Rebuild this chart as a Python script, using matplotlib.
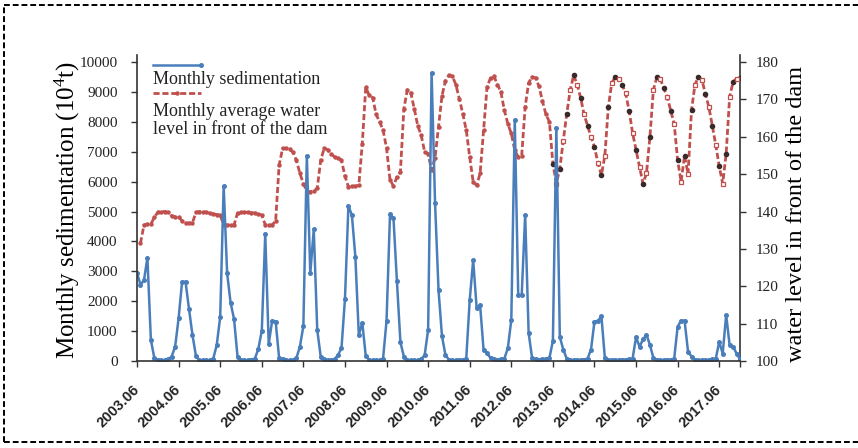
import numpy as np
import matplotlib.pyplot as plt
from matplotlib.lines import Line2D

plt.rcParams['font.family'] = ['Liberation Serif', 'DejaVu Serif']
plt.rcParams['mathtext.fontset'] = 'custom'
plt.rcParams['mathtext.rm'] = 'Liberation Serif'
plt.rcParams['mathtext.it'] = 'Liberation Serif:italic'

# monthly sedimentation (10^4 t), 2003.06 - 2017.12, one row per June-May year
sediment = [
    2950, 2550, 2700, 3450, 700, 100, 40, 20, 20, 60, 150, 480,      # 2003
    1430, 2650, 2650, 1740, 870, 170, 30, 20, 20, 30, 80, 535,       # 2004
    1470, 5850, 2940, 1950, 1400, 150, 30, 20, 30, 40, 80, 400,      # 2005
    1010, 4250, 570, 1350, 1320, 100, 60, 30, 20, 30, 100, 480,      # 2006
    1170, 6850, 2940, 4400, 1040, 150, 60, 30, 30, 60, 200, 430,     # 2007
    2070, 5190, 4880, 3490, 870, 1280, 170, 40, 20, 20, 40, 80,      # 2008
    1350, 4910, 4780, 2660, 630, 150, 40, 20, 20, 30, 60, 200,       # 2009
    1040, 9640, 5280, 2370, 830, 200, 40, 20, 20, 30, 50, 80,        # 2010
    2040, 3380, 1770, 1870, 370, 260, 100, 60, 50, 60, 80, 430,      # 2011
    1370, 8060, 2200, 2200, 4880, 940, 100, 60, 50, 60, 80, 100,     # 2012
    670, 7790, 810, 380, 80, 40, 30, 30, 40, 50, 80, 380,            # 2013
    1320, 1340, 1500, 100, 50, 30, 30, 40, 40, 50, 60, 80,           # 2014
    800, 480, 720, 880, 540, 100, 40, 30, 30, 40, 50, 80,            # 2015
    1150, 1350, 1350, 310, 150, 40, 30, 30, 40, 40, 60, 80,          # 2016
    640, 250, 1540, 530, 480, 250, 60,                               # 2017
]

# monthly average water level in front of the dam (m)
water_level = [
    np.nan, 131.5, 136.4, 136.6, 136.6, 138.5, 139.8, 140.0, 140.0, 139.8, 138.8, 138.6,
    138.6, 137.5, 136.9, 136.9, 137.0, 139.8, 140.0, 140.0, 139.8, 139.5, 139.4, 139.2,
    139.0, 136.5, 136.4, 136.4, 136.4, 139.6, 139.8, 139.8, 139.8, 139.7, 139.6, 139.4,
    139.0, 136.5, 136.4, 136.4, 137.5, 152.4, 156.9, 156.9, 156.7, 155.9, 153.7, 150.2,
    147.5, 145.4, 145.3, 145.5, 146.2, 153.7, 156.9, 156.6, 155.5, 154.6, 154.4, 153.7,
    149.5, 146.6, 146.8, 146.8, 147.0, 158.2, 173.3, 171.1, 170.5, 166.0, 164.0, 161.8,
    157.0, 148.5, 146.8, 149.3, 150.6, 167.5, 172.6, 171.8, 167.5, 163.0, 160.4, 156.0,
    155.5, 151.0, 154.4, 162.6, 171.0, 175.0, 176.5, 176.2, 174.0, 170.2, 166.2, 161.8,
    154.6, 147.9, 147.0, 150.2, 161.8, 173.3, 175.8, 176.2, 174.0, 172.0, 167.1, 163.5,
    160.9, 156.4, 154.6, 155.0, 168.0, 174.5, 176.0, 175.8, 173.5, 169.5, 166.0, 164.0,
    152.8, 147.5, 151.5, 159.0, 166.2, 172.5, 176.5, 174.0, 170.5, 166.0, 163.0, 160.0,
    157.3, 153.0, 149.7, 155.0, 168.0, 174.5, 176.0, 175.6, 174.0, 171.6, 167.0, 161.0,
    156.5, 151.9, 147.5, 150.2, 160.0, 172.6, 176.0, 175.5, 173.0, 170.7, 167.0, 163.5,
    153.7, 148.0, 155.0, 150.0, 167.1, 174.0, 176.0, 175.3, 171.5, 168.0, 163.0, 157.8,
    152.1, 147.5, 155.5, 170.7, 174.7, 175.6, 175.8,
]

year_labels = ['2003.06', '2004.06', '2005.06', '2006.06', '2007.06',
               '2008.06', '2009.06', '2010.06', '2011.06', '2012.06',
               '2013.06', '2014.06', '2015.06', '2016.06', '2017.06']

months = np.arange(len(sediment))
level = np.array(water_level)

blue = '#4a7ebb'
red = '#c0504d'

fig = plt.figure(figsize=(8.58, 4.48), dpi=100)
ax = fig.add_axes([0.1597, 0.1942, 0.7028, 0.683])
ax2 = ax.twinx()

# water level (right axis)
ax2.plot(months, level, color=red, linestyle=(0, (2.2, 1.0)), linewidth=2.0,
         marker='o', markersize=3.2, markeredgewidth=0, zorder=2)
late = months >= 120
ax2.plot(months[late][::2], level[late][::2], linestyle='none', marker='o',
         markersize=3.0, color='#3a2a2a', zorder=3)
ax2.plot(months[late][1::2], level[late][1::2], linestyle='none', marker='s',
         markersize=3.5, markerfacecolor='white', markeredgecolor=red,
         markeredgewidth=0.9, zorder=3)

# sedimentation (left axis, drawn on top)
ax.plot(months, sediment, color=blue, linewidth=1.8, marker='o',
        markersize=3.6, markeredgewidth=0)
ax.set_zorder(ax2.get_zorder() + 1)
ax.patch.set_visible(False)

ax.set_xlim(0, 174)
ax.set_ylim(0, 10234)
ax2.set_ylim(100, 181.9)
ax.set_yticks(range(0, 10001, 1000))
ax2.set_yticks(range(100, 181, 10))
ax.set_xticks(list(range(0, 169, 12)) + [174])
ax.set_xticklabels(year_labels + [''], rotation=45, ha='right', va='center',
                   rotation_mode='anchor', fontsize=10.5, fontweight='bold',
                   family=['Liberation Sans', 'DejaVu Sans'])

for a in (ax, ax2):
    a.spines['top'].set_visible(False)
    for s in ('left', 'right', 'bottom'):
        a.spines[s].set_linewidth(1.2)
        a.spines[s].set_color('#333333')
    a.tick_params(direction='out', length=4, width=1.0, colors='#333333',
                  labelcolor='#222222', labelsize=11)
ax.spines['right'].set_visible(False)
ax2.spines['left'].set_visible(False)
ax2.spines['bottom'].set_visible(False)
ax.tick_params(axis='x', pad=15, labelsize=10.5)
ax.tick_params(axis='y', pad=10)
ax2.tick_params(axis='y', pad=7)

ax.set_ylabel(r'Monthly sedimentation (10$^{4}$t)', fontsize=18)
ax.yaxis.set_label_coords(-0.091, 0.493)
ax2.set_ylabel('water level in front of the dam', fontsize=17.5)
ax2.yaxis.set_label_coords(1.076, 0.482)

# hand-made legend in the upper left corner
ax.add_line(Line2D([0.027, 0.106], [0.966, 0.966], transform=ax.transAxes,
                   color=blue, linewidth=1.8, marker='o', markersize=3.6,
                   markevery=[1], markeredgewidth=0))
ax.add_line(Line2D([0.027, 0.066, 0.106], [0.877, 0.877, 0.877],
                   transform=ax.transAxes, color=red,
                   linestyle=(0, (2.2, 1.0)), linewidth=2.0, marker='o',
                   markersize=3.2, markevery=[1], markeredgewidth=0))
ax.text(0.027, 0.921, 'Monthly sedimentation', transform=ax.transAxes,
        ha='left', va='center', fontsize=13, color='#222222')
ax.text(0.027, 0.817, 'Monthly average water', transform=ax.transAxes,
        ha='left', va='center', fontsize=13, color='#222222')
ax.text(0.027, 0.758, 'level in front of the dam', transform=ax.transAxes,
        ha='left', va='center', fontsize=13, color='#222222')

# dashed frame round the figure
frame = dict(transform=fig.transFigure, color='black', linewidth=1.4,
             linestyle=(0, (3, 1.5)))
fig.add_artist(Line2D([0.005, 0.005], [0.014, 0.988], **frame))
fig.add_artist(Line2D([0.005, 1.0], [0.988, 0.988], **frame))
fig.add_artist(Line2D([0.005, 1.0], [0.014, 0.014], **frame))

fig.savefig('out.png', dpi=100, facecolor='white')
